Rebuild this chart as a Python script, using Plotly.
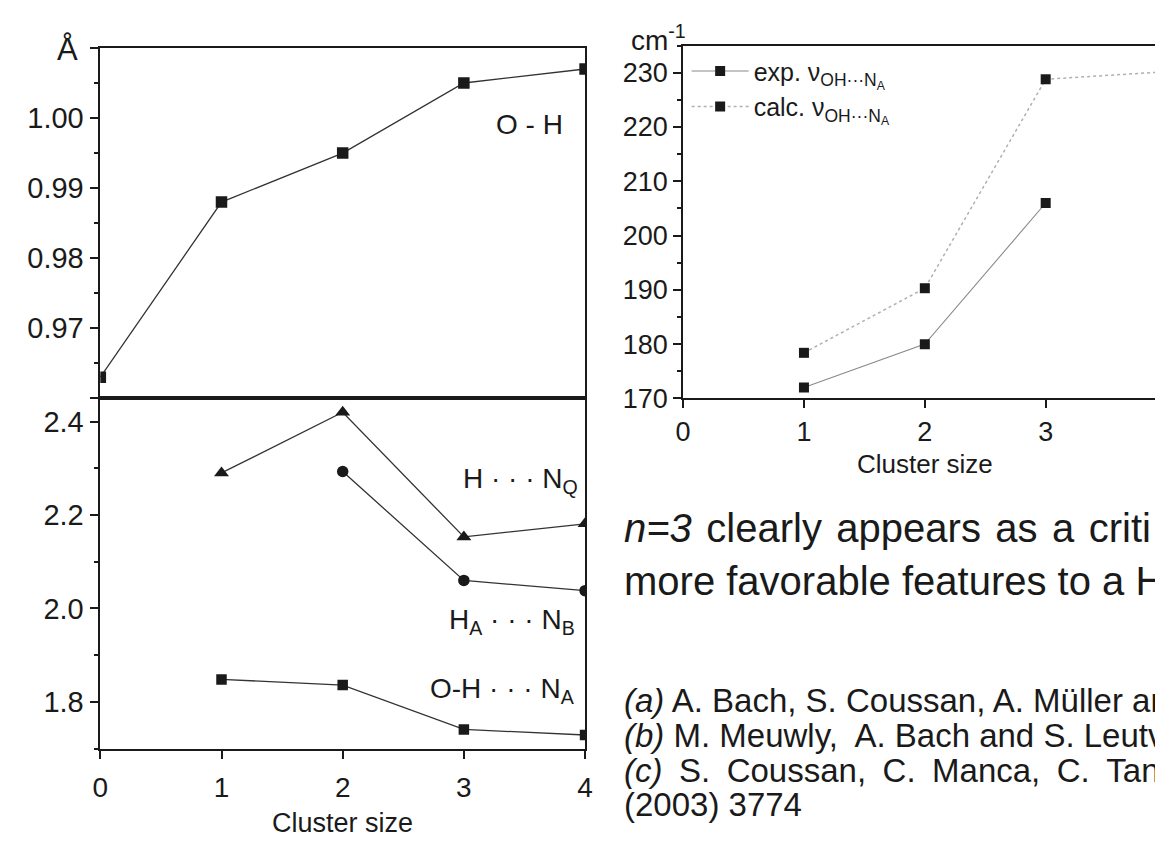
import plotly.graph_objects as go

# ---------------- data ----------------
cluster = [0, 1, 2, 3, 4]
oh_length = [0.963, 0.988, 0.995, 1.005, 1.007]

hnq_x = [1, 2, 3, 4]
hnq_dist = [2.290, 2.420, 2.153, 2.181]
hanb_x = [2, 3, 4]
hanb_dist = [2.293, 2.060, 2.038]
ohna_x = [1, 2, 3, 4]
ohna_dist = [1.848, 1.836, 1.741, 1.729]

exp_x = [1, 2, 3]
exp_freq = [172.0, 180.0, 206.0]
calc_x = [1, 2, 3, 4]
calc_freq = [178.4, 190.3, 228.8, 230.2]

# tick definitions
oh_ticks = [0.96, 0.97, 0.98, 0.99, 1.00, 1.01]
oh_ticktext = ["", "0.97", "0.98", "0.99", "1.00", ""]
oh_minor = [0.965, 0.975, 0.985, 0.995, 1.005]

W, H = 1163, 841
FONT = "Liberation Sans, Arial, sans-serif"
INK = "#1a1a1a"

fig = go.Figure()

# top-left: O-H length
fig.add_trace(go.Scatter(x=cluster, y=oh_length, xaxis="x", yaxis="y", mode="lines+markers",
                         line=dict(color="#333333", width=1.3),
                         marker=dict(symbol="square", size=11.5, color=INK), showlegend=False))
# bottom-left: H-bond distances
fig.add_trace(go.Scatter(x=hnq_x, y=hnq_dist, xaxis="x2", yaxis="y2", mode="lines+markers",
                         line=dict(color="#333333", width=1.3),
                         marker=dict(symbol="triangle-up", size=13, color=INK), showlegend=False))
fig.add_trace(go.Scatter(x=hanb_x, y=hanb_dist, xaxis="x2", yaxis="y2", mode="lines+markers",
                         line=dict(color="#333333", width=1.3),
                         marker=dict(symbol="circle", size=11.5, color=INK), showlegend=False))
fig.add_trace(go.Scatter(x=ohna_x, y=ohna_dist, xaxis="x2", yaxis="y2", mode="lines+markers",
                         line=dict(color="#333333", width=1.3),
                         marker=dict(symbol="square", size=10.5, color=INK), showlegend=False))
# right: frequencies
fig.add_trace(go.Scatter(x=exp_x, y=exp_freq, xaxis="x3", yaxis="y3", mode="lines+markers",
                         name="exp. ν<sub>OH···N<sub>A</sub></sub>",
                         line=dict(color="#8a8a8a", width=1.1),
                         marker=dict(symbol="square", size=10, color=INK)))
fig.add_trace(go.Scatter(x=calc_x, y=calc_freq, xaxis="x3", yaxis="y3", mode="lines+markers",
                         name="calc. ν<sub>OH···N<sub>A</sub></sub>", cliponaxis=False,
                         line=dict(color="#b0b0b0", width=1.5, dash="dot"),
                         marker=dict(symbol="square", size=10, color=INK)))

# pixel geometry -> domains
def dx(a, b):
    return [a / W, b / W]

def dy(top, bottom):
    return [1 - bottom / H, 1 - top / H]

L0, L1 = 85.5, 577.0
R0 = 676.4
R_UNIT = 122.55
r_xmax = (W - R0) / R_UNIT

axis_common = dict(showline=True, linecolor=INK, linewidth=1.6, showgrid=False, zeroline=False,
                   ticks="outside", tickcolor=INK, tickwidth=1.5,
                   tickfont=dict(family=FONT, size=28, color=INK))

fig.update_layout(
    width=W, height=H, autosize=False,
    margin=dict(l=0, r=0, t=0, b=0),
    paper_bgcolor="white", plot_bgcolor="white",
    font=dict(family=FONT, color=INK),
    xaxis=dict(axis_common, domain=dx(L0, L1), range=[0, 4], anchor="y", mirror=True,
               ticks="", showticklabels=False),
    yaxis=dict(axis_common, domain=dy(40.7, 397.3), range=[0.96, 1.01], anchor="x", mirror=True,
               tickmode="array", tickvals=oh_ticks, ticktext=oh_ticktext, ticklen=9,
               tickfont=dict(family=FONT, size=29, color=INK),
               minor=dict(tickmode="array", tickvals=oh_minor, ticklen=5, tickcolor=INK,
                          ticks="outside")),
    xaxis2=dict(axis_common, domain=dx(L0, L1), range=[0, 4], anchor="y2", mirror=True,
                tick0=0, dtick=1, ticklen=9, ticklabelstandoff=4),
    yaxis2=dict(axis_common, domain=dy(397.3, 754.0), range=[1.70, 2.45], anchor="x2", mirror=True,
                tick0=1.8, dtick=0.2, tickformat=".1f", ticklen=9,
                tickfont=dict(family=FONT, size=29, color=INK),
                minor=dict(dtick=0.1, ticklen=5, tickcolor=INK, ticks="outside")),
    xaxis3=dict(axis_common, domain=[R0 / W, 1.0], range=[0, r_xmax], anchor="y3", mirror=True,
                tick0=0, dtick=1, ticklen=8, tickfont=dict(family=FONT, size=27, color=INK)),
    yaxis3=dict(axis_common, domain=dy(38.3, 397.5), range=[170, 235], anchor="x3", mirror=False,
                tick0=170, dtick=10, ticklen=8, tickfont=dict(family=FONT, size=27, color=INK),
                minor=dict(dtick=5, ticklen=4, tickcolor=INK, ticks="outside")),
    legend=dict(x=680 / W, y=1 - 41 / H, xanchor="left", yanchor="top",
                bgcolor="rgba(0,0,0,0)", font=dict(family=FONT, size=25, color=INK),
                itemwidth=57, tracegroupgap=0),
)

ann = []
def add(text, x, y, xref="paper", yref="paper", size=28, xanchor="center", yanchor="middle"):
    ann.append(dict(text=text, x=x, y=y, xref=xref, yref=yref, showarrow=False,
                    xanchor=xanchor, yanchor=yanchor,
                    font=dict(family=FONT, size=size, color=INK)))

def px(x):
    return x / W

def py(y):
    return 1 - y / H

# axis unit labels and titles
add("Å", px(52.5), py(42), size=31)
add("cm<sup>-1</sup>", px(651), py(31), size=28)
add("Cluster size", 2, py(830), xref="x2", size=27)
add("Cluster size", 2, py(464), xref="x3", size=26)
# partially visible tick label "4" on right panel (computed from axis scale)
x4_paper = R0 / W + (4 - 0) / r_xmax * (1 - R0 / W)
add("4", x4_paper, py(421), size=27)

# curve labels
add("O - H", 3.54, 0.9991, xref="x", yref="y", size=28)
add("H · · · N<sub>Q</sub>", 3.96, 2.274, xref="x2", yref="y2", size=28, xanchor="right")
add("H<sub>A</sub> · · · N<sub>B</sub>", 3.93, 1.972, xref="x2", yref="y2", size=28, xanchor="right")
add("O-H · · · N<sub>A</sub>", 3.93, 1.8235, xref="x2", yref="y2", size=28, xanchor="right")

# slide text
T = " \u200a"
add(f"<i>n=3</i>{T}clearly{T}appears{T}as{T}a{T}criti", px(614), py(529.5), size=40, xanchor="left")
add("more favorable features to a H", px(614), py(583), size=40, xanchor="left")
add("<i>(a)</i> A. Bach, S. Coussan, A. Müller ar", px(614), py(705.5), size=33, xanchor="left")
add("<i>(b)</i> M. Meuwly,\u00a0 A. Bach and S. Leutv", px(614), py(740.5), size=33, xanchor="left")
S = "\u2002"
add(f"<i>(c)</i>{S}S.{S}Coussan,{S}C.{S}Manca,{S}C.{S}Tann", px(614), py(776), size=33, xanchor="left")
add("(2003) 3774", px(614), py(810.5), size=33, xanchor="left")

fig.update_layout(annotations=ann)
fig.write_html("out.html")
